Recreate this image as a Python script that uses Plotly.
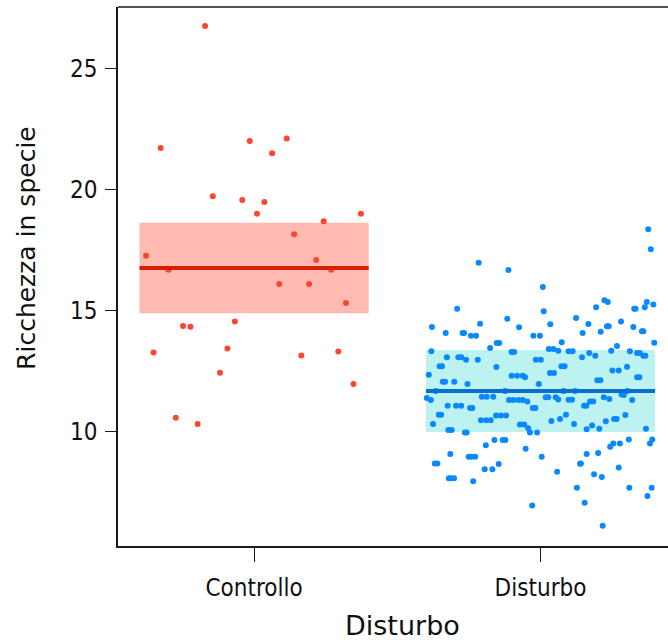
import plotly.graph_objects as go

# ---------------- data ----------------
categories = ["Controllo", "Disturbo"]
category_pos = [0, 1]

controllo_jitter = [-0.171, -0.326, -0.015, 0.114, 0.063, -0.144, -0.041, 0.036, 0.010, 0.373,
                    0.243, 0.140, -0.377, 0.217, -0.299, 0.269, 0.088, 0.192, 0.321, -0.067,
                    -0.248, -0.222, -0.351, -0.093, 0.165, 0.294, -0.119, 0.347, -0.273, -0.197]
controllo_values = [26.74, 21.71, 22.00, 22.10, 21.49, 19.72, 19.56, 19.48, 19.00, 19.00,
                    18.69, 18.15, 17.27, 17.09, 16.69, 16.69, 16.10, 16.10, 15.32, 14.55,
                    14.37, 14.34, 13.28, 13.44, 13.15, 13.32, 12.44, 11.98, 10.59, 10.33]

disturbo_jitter = [
    -0.379, -0.331, -0.291, -0.272, -0.267, -0.243, -0.225, -0.216, -0.211, -0.116,
    -0.112, -0.075, -0.025, -0.002, 0.008, 0.011, 0.034, 0.124, 0.147, 0.167,
    0.194, 0.210, 0.223, 0.235, 0.232, 0.238, 0.281, 0.324, 0.327, 0.332,
    0.354, 0.359, 0.364, 0.371, 0.376, 0.385, 0.394,
    -0.176, -0.153, -0.144, -0.381, -0.101, -0.092, 0.029, 0.045, 0.062, 0.074,
    0.098, 0.112, 0.170, 0.191, 0.145, 0.247, 0.267, 0.312, 0.337, 0.347,
    0.359, 0.366, 0.397, -0.327, -0.287, -0.277, -0.260, -0.219, -0.016, 0.001,
    -0.352, -0.344, -0.154, 0.073, 0.084, 0.251, 0.273, 0.302, -0.390, -0.101,
    -0.082, -0.062, -0.054, 0.033, 0.047, 0.337, 0.345, -0.341, -0.333, -0.301,
    -0.255, -0.006, 0.198, 0.209, -0.366, -0.124, 0.080, 0.121, 0.303, -0.397,
    -0.383, -0.205, -0.188, -0.165, -0.110, -0.095, -0.077, -0.062, -0.046, 0.018,
    0.027, 0.053, 0.062, 0.098, 0.110, 0.173, 0.184, 0.152, 0.160, 0.221,
    0.240, 0.283, 0.291, 0.320, -0.324, -0.295, -0.277, -0.246, -0.238, -0.027,
    -0.018, -0.355, -0.347, -0.155, -0.138, -0.120, 0.089, -0.208, -0.190, -0.174,
    0.068, 0.038, 0.117, 0.228, 0.257, 0.266, 0.296, -0.375, -0.072, -0.057,
    0.180, 0.161, 0.205, -0.322, -0.310, -0.043, -0.037, -0.012, -0.264, -0.258,
    0.368, -0.191, -0.161, -0.132, -0.123, -0.052, 0.243, 0.254, 0.277, 0.308,
    0.382, 0.390, -0.315, -0.251, -0.242, -0.228, -0.369, -0.360, -0.146, -0.195,
    -0.168, 0.004, 0.058, 0.138, 0.141, 0.161, 0.201, 0.187, 0.214, 0.273,
    -0.320, -0.312, -0.302, -0.235, 0.127, 0.310, 0.388, 0.373, 0.154, -0.029,
    0.217]
disturbo_values = [
    14.33, 14.08, 15.08, 14.08, 14.08, 13.97, 13.97, 16.98, 14.46, 14.67,
    16.68, 14.32, 13.97, 13.97, 15.98, 14.98, 14.44, 14.70, 14.08, 14.45,
    15.14, 14.13, 15.43, 15.36, 14.36, 14.36, 14.55, 14.33, 15.08, 15.08,
    14.15, 14.15, 15.14, 15.36, 18.36, 17.53, 15.26,
    13.46, 13.67, 13.67, 13.33, 13.30, 13.30, 13.42, 13.42, 13.35, 13.70,
    13.33, 13.33, 13.26, 13.14, 13.08, 13.35, 13.54, 13.33, 13.26, 13.26,
    13.14, 13.14, 13.68, 13.08, 13.08, 13.08, 12.98, 12.98, 12.98, 12.98,
    12.71, 12.71, 12.68, 12.71, 12.71, 12.54, 12.54, 12.69, 12.36, 12.32,
    12.32, 12.32, 12.26, 12.43, 12.43, 12.26, 12.26, 12.07, 12.07, 12.07,
    11.98, 11.98, 12.13, 12.13, 11.69, 11.69, 11.69, 11.69, 11.69, 11.40,
    11.32, 11.45, 11.45, 11.45, 11.32, 11.32, 11.32, 11.32, 11.26, 11.43,
    11.43, 11.43, 11.34, 11.33, 11.33, 11.26, 11.26, 11.08, 11.08, 11.43,
    11.36, 11.55, 11.52, 11.32, 11.08, 11.08, 11.08, 10.99, 10.99, 10.99,
    10.99, 10.71, 10.71, 10.68, 10.68, 10.68, 10.71, 10.48, 10.48, 10.48,
    10.54, 10.45, 10.33, 10.44, 10.54, 10.54, 10.70, 10.33, 10.31, 10.31,
    10.27, 10.11, 10.13, 10.08, 10.08, 10.15, 9.98, 9.98, 9.98, 9.98,
    10.13, 9.45, 9.67, 9.67, 9.67, 9.31, 9.39, 9.53, 9.53, 9.69,
    9.53, 9.69, 9.09, 8.98, 8.98, 8.98, 8.70, 8.70, 8.68, 8.46,
    8.46, 8.98, 8.36, 8.69, 8.70, 9.09, 9.13, 8.26, 8.14, 8.54,
    8.09, 8.09, 8.09, 7.97, 7.70, 7.70, 7.70, 7.36, 7.08, 6.97,
    6.13]

group_means = [16.76, 11.69]
band_low = [14.89, 10.00]
band_high = [18.63, 13.38]
band_halfwidth = 0.4

# ---------------- styles ----------------
point_colors = ["#FF4530", "#0A88FF"]
line_colors = ["#D81E05", "#0B6FD0"]
band_colors = ["#FFBAB1", "#BCF2EF"]

fig = go.Figure()

jitters = [controllo_jitter, disturbo_jitter]
values = [controllo_values, disturbo_values]

# bands
for i, c in enumerate(category_pos):
    x0, x1 = c - band_halfwidth, c + band_halfwidth
    fig.add_trace(go.Scatter(
        x=[x0, x1, x1, x0, x0],
        y=[band_low[i], band_low[i], band_high[i], band_high[i], band_low[i]],
        mode="lines", fill="toself", fillcolor=band_colors[i],
        line=dict(width=0), hoverinfo="skip", showlegend=False))

# points
for i, c in enumerate(category_pos):
    fig.add_trace(go.Scatter(
        x=[c + j for j in jitters[i]], y=values[i], mode="markers",
        marker=dict(size=6, color=point_colors[i], line=dict(width=0)),
        showlegend=False, name=categories[i]))

# mean lines
for i, c in enumerate(category_pos):
    fig.add_trace(go.Scatter(
        x=[c - band_halfwidth, c + band_halfwidth], y=[group_means[i], group_means[i]],
        mode="lines", line=dict(color=line_colors[i], width=4),
        hoverinfo="skip", showlegend=False))

axis_color = "#1a1a1a"
tick_font = dict(family="Liberation Sans Narrow, DejaVu Sans Condensed, Liberation Sans, Arial", size=24, color="#111111")

fig.update_layout(
    width=668, height=640,
    margin=dict(l=118, r=0, t=7, b=94),
    plot_bgcolor="white", paper_bgcolor="white",
    showlegend=False,
    xaxis=dict(
        range=[-0.475, 1.445], tickvals=category_pos, ticktext=categories,
        showgrid=False, zeroline=False, showline=True, linecolor=axis_color, linewidth=1.5,
        ticks="outside", ticklen=14, tickwidth=1.2, tickcolor=axis_color,
        tickfont=tick_font, ticklabelstandoff=5),
    yaxis=dict(
        range=[5.30, 27.52], tickvals=[10, 15, 20, 25],
        showgrid=False, zeroline=False, showline=True, linecolor=axis_color, linewidth=1.5,
        ticks="outside", ticklen=11, tickwidth=1.2, tickcolor=axis_color,
        tickfont=tick_font, ticklabelstandoff=3),
    shapes=[dict(type="line", xref="paper", yref="paper", x0=0, x1=1, y0=1, y1=1,
                 line=dict(color=axis_color, width=1.5))],
    annotations=[
        dict(text="Ricchezza in specie", xref="paper", yref="paper", x=-0.1655, y=0.553,
             textangle=-90, showarrow=False, xanchor="center", yanchor="middle",
             font=dict(family="DejaVu Sans", size=25, color="#111111")),
        dict(text="Disturbo", xref="paper", yref="paper", x=0.518, y=-0.1466,
             showarrow=False, xanchor="center", yanchor="middle",
             font=dict(family="DejaVu Sans", size=27, color="#111111")),
    ],
)

fig.write_html("out.html")
